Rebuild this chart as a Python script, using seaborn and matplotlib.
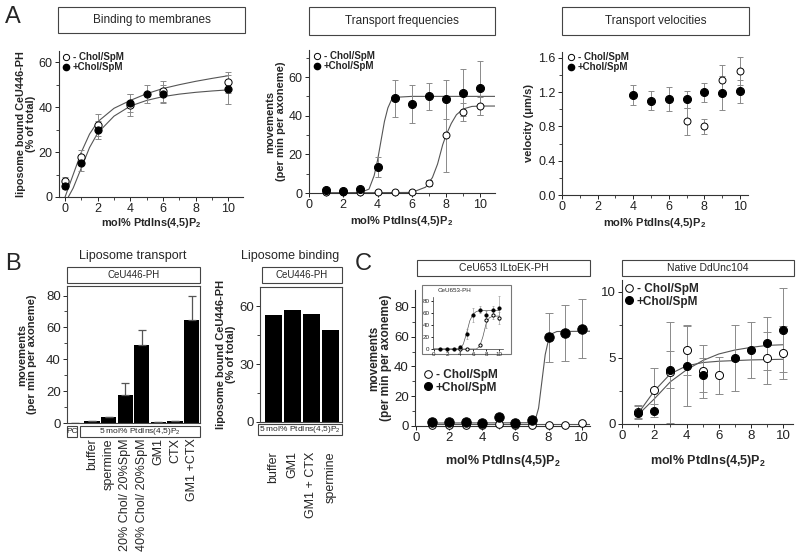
import numpy as np
import pandas as pd
import seaborn as sns
import matplotlib.pyplot as plt
from matplotlib.patches import Rectangle
from matplotlib.lines import Line2D

sns.set_style('ticks')
plt.rcParams['font.family'] = ['Liberation Sans', 'DejaVu Sans']
plt.rcParams['mathtext.default'] = 'regular'

W, H = 800, 554
XLAB = 'mol% PtdIns(4,5)P$_2$'

# ---------------- data ----------------
# A1 binding to membranes
a1_x_open = [0, 1, 2, 4, 6, 10]
a1_y_open = [7, 18, 32, 41, 47, 51]
a1_e_open = [2, 3, 5, 5, 4.5, 4.5]
a1_x_fill = [0, 1, 2, 4, 5, 6, 10]
a1_y_fill = [5, 15, 30, 42, 46, 46, 48]
a1_e_fill = [1.5, 3.5, 4, 4, 4, 4, 6.5]
a1_fit1_x = [0, 0.5, 1, 1.5, 2, 3, 4, 5, 6, 7, 8, 9, 10]
a1_fit1_y = [0, 10, 20, 28, 33.5, 39.5, 43, 46, 48.3, 50, 51.5, 52.8, 54]
a1_fit2_x = [0.2, 0.5, 1, 1.5, 2, 3, 4, 5, 6, 7, 8, 9, 10]
a1_fit2_y = [0, 4, 13, 22, 28.5, 36, 40.5, 43, 44.7, 45.8, 46.6, 47.2, 47.7]

# A2 transport frequencies
a2_x = [1, 2, 3, 4, 5, 6, 7, 8, 9, 10]
a2_y_fill = [1.5, 1, 2, 13.5, 49, 46, 50, 48.5, 52, 54.5]
a2_e_fill = [1, 0.8, 1, 5, 9.5, 10, 7, 10, 12, 14]
a2_y_open = [0.5, 0.5, 0.5, 0.5, 0.5, 0.5, 5, 30, 42, 45]
a2_e_open = [0, 0, 0, 0, 0, 0, 1.5, 19, 4.5, 4.5]
a2_fit_fill_x = [1, 3, 3.5, 3.8, 4, 4.2, 4.4, 4.6, 4.8, 5, 6, 10.9]
a2_fit_fill_y = [0, 0.3, 2, 9, 17, 27, 37, 44, 48, 49.5, 50, 50]
a2_fit_open_x = [1, 6, 6.8, 7.2, 7.5, 7.8, 8, 8.3, 8.6, 9, 9.5, 10, 10.9]
a2_fit_open_y = [0, 0.3, 3, 8, 15, 25, 30, 36, 40.5, 43.5, 44.8, 45, 45]

# A3 transport velocities
a3_x_fill = [4, 5, 6, 7, 8, 9, 10]
a3_y_fill = [1.17, 1.10, 1.12, 1.12, 1.20, 1.19, 1.21]
a3_e_fill = [0.12, 0.11, 0.14, 0.10, 0.11, 0.20, 0.13]
a3_x_open = [7, 8, 9, 10]
a3_y_open = [0.86, 0.80, 1.34, 1.45]
a3_e_open = [0.16, 0.09, 0.18, 0.16]

# B1 liposome transport
b1_cats = ['PC', 'buffer', 'spermine', '20% Chol/ 20%SpM', '40% Chol/ 20%SpM',
           'GM1', 'CTX', 'GM1 +CTX']
b1_vals = [0.3, 1, 3.5, 17.5, 49, 0.5, 1, 64.5]
b1_err = [0, 0, 0, 7.5, 9.5, 0, 0, 15]

# B2 liposome binding
b2_cats = ['buffer', 'GM1', 'GM1 + CTX', 'spermine']
b2_vals = [55.5, 58, 56, 47.7]

# C1 CeU653 ILtoEK-PH
c1_x = [1, 2, 3, 4, 5, 6, 7, 8, 9, 10]
c1_y_fill = [2.7, 2.5, 3, 2.2, 6, 2.2, 3.8, 59.5, 62.5, 65.5]
c1_e_fill = [0, 0, 0, 0, 0, 0, 0, 16.5, 18.7, 20]
c1_y_open = [1, 1, 1, 1, 1.5, 1, 0.5, 0.5, 0.5, 2.2]
c1_fit_x = [1, 7, 7.2, 7.4, 7.6, 7.8, 8, 8.2, 8.5, 10.5]
c1_fit_y = [2, 2.2, 4, 12, 30, 48, 58, 62, 63.5, 63.7]
c1_flat_x = [0.9, 10.5]
c1_flat_y = [1.2, 1.2]

# C1 inset CeU653-PH
ci_x = [1, 2, 3, 4, 5, 6, 7, 8, 9, 10]
ci_y_fill = [0, 0, 0, 3, 25, 57, 65.5, 57.5, 64.5, 69]
ci_e_fill = [0, 0, 0, 1, 8, 12, 6, 8, 8, 20]
ci_x_open = [4, 5, 7, 8, 9, 10]
ci_y_open = [0, 0, 6, 49, 57.5, 52.5]
ci_e_open = [0, 0, 0, 14, 8, 10]
ci_fit_fill_x = [0, 3.5, 4, 4.5, 5, 5.5, 6, 6.5, 7, 10]
ci_fit_fill_y = [0, 0, 1, 8, 26, 47, 58, 62.5, 64, 64.5]
ci_fit_open_x = [0, 6.5, 7, 7.5, 8, 8.5, 9, 10]
ci_fit_open_y = [0, 0, 4, 20, 42, 52, 54.5, 55]

# C2 native DdUnc104
c2_x_open = [1, 2, 3, 4, 5, 6, 9, 10]
c2_y_open = [0.93, 2.6, 3.9, 5.6, 4.0, 3.7, 5.0, 5.4]
c2_e_open = [0.5, 1.65, 3.8, 1.9, 2.0, 1.4, 2.0, 2.0]
c2_x_fill = [1, 2, 3, 4, 5, 7, 8, 9, 10]
c2_y_fill = [0.86, 1.0, 4.1, 4.4, 3.7, 5.0, 5.6, 6.1, 7.1]
c2_e_fill = [0.5, 0.5, 1.4, 3.0, 1.3, 2.5, 2.1, 2.0, 3.2]
c2_fit1_x = [1, 2, 3, 4, 5, 6, 7, 8, 9, 10]
c2_fit1_y = [0.7, 1.9, 3.2, 4.1, 4.8, 5.3, 5.6, 5.8, 5.95, 6.0]
c2_fit2_x = [1, 2, 3, 4, 5, 6, 7, 8, 10]
c2_fit2_y = [0.8, 2.5, 3.8, 4.4, 4.65, 4.75, 4.8, 4.85, 4.9]

# ---------------- helpers ----------------
fig = plt.figure(figsize=(8, 5.54), dpi=100)


def add_ax(l, t, r, b, **kw):
    return fig.add_axes([l / W, 1 - b / H, (r - l) / W, (b - t) / H], **kw)


def box(l, t, r, b, text, fs, fc='none', ec='#444', z=1):
    fig.add_artist(Rectangle((l / W, 1 - b / H), (r - l) / W, (b - t) / H,
                             transform=fig.transFigure, fc=fc, ec=ec, lw=0.8, zorder=z))
    if text:
        fig.text((l + r) / 2 / W, 1 - (t + b) / 2 / H, text, ha='center', va='center',
                 fontsize=fs, zorder=z + 1)


def style(ax, labelsize=8.5):
    sns.despine(ax=ax)
    for s in ['left', 'bottom']:
        ax.spines[s].set_linewidth(0.8)
        ax.spines[s].set_color('#333')
    ax.tick_params(labelsize=labelsize, length=3, width=0.7, pad=1.5, colors='#222')
    ax.tick_params(which='minor', length=2, width=0.6)


def points(ax, x, y, e, filled, ms=5.5, ew=0.7, cap=2):
    ax.errorbar(x, y, yerr=e, fmt='none', ecolor='#8a8a8a', elinewidth=ew,
                capsize=cap, capthick=ew, zorder=2, clip_on=False)
    sns.scatterplot(x=x, y=y, ax=ax, marker='o', s=ms ** 2,
                    color='black' if filled else 'white', edgecolor='black',
                    linewidth=0.7, zorder=3, clip_on=False)


def curve(ax, x, y, lw=0.8):
    sns.lineplot(x=x, y=y, ax=ax, color='#555', lw=lw, sort=False, estimator=None, zorder=1)


def legend(ax, px, py, fs=7, ms=4.5):
    h = [Line2D([], [], ls='none', marker='o', mfc='white', mec='black', ms=ms, mew=0.7),
         Line2D([], [], ls='none', marker='o', mfc='black', mec='black', ms=ms)]
    ax.legend(h, ['- Chol/SpM', '+Chol/SpM'], loc='upper left',
              bbox_to_anchor=(px / W, 1 - py / H), bbox_transform=fig.transFigure,
              frameon=False, borderpad=0, borderaxespad=0, handlelength=0.7,
              handletextpad=0.3, labelspacing=0.05, prop={'weight': 'bold', 'size': fs})


def labels(ax, ylab, yx, xlab_y=None, fs=8):
    if ylab:
        ax.set_ylabel(ylab, fontsize=fs, fontweight='bold', linespacing=1.0)
        ax.yaxis.set_label_coords(yx, 0.5)
    if xlab_y is not None:
        ax.set_xlabel(XLAB, fontsize=fs, fontweight='bold')
        ax.xaxis.set_label_coords(0.5, xlab_y)
    else:
        ax.set_xlabel('')


# ---------------- panel letters & headings ----------------
fig.text(5 / W, 1 - 17 / H, 'A', fontsize=17, va='center')
fig.text(5 / W, 1 - 264 / H, 'B', fontsize=17, va='center')
fig.text(355 / W, 1 - 264 / H, 'C', fontsize=17, va='center')
fig.text(133 / W, 1 - 256 / H, 'Liposome transport', fontsize=9, ha='center', va='center')
fig.text(290 / W, 1 - 256 / H, 'Liposome binding', fontsize=9, ha='center', va='center')

# ---------------- A1 ----------------
box(58, 7, 245, 33, 'Binding to membranes', 8.5)
ax = add_ax(59, 51, 243, 197)
curve(ax, a1_fit1_x, a1_fit1_y)
curve(ax, a1_fit2_x, a1_fit2_y)
points(ax, a1_x_open, a1_y_open, a1_e_open, False, ms=5.2)
points(ax, a1_x_fill, a1_y_fill, a1_e_fill, True, ms=5.2)
ax.set_xlim(-0.37, 10.9)
ax.set_ylim(0, 65)
ax.set_xticks([0, 2, 4, 6, 8, 10])
ax.set_xticks([1, 3, 5, 7, 9], minor=True)
ax.set_yticks([0, 20, 40, 60])
ax.set_yticks([10, 30, 50], minor=True)
style(ax, labelsize=9)
labels(ax, 'liposome bound CeU446-PH\n(% of total)', -0.125, -0.13, fs=7.8)
legend(ax, 63, 52)

# ---------------- A2 ----------------
box(309, 7, 495, 35, 'Transport frequencies', 8.5)
ax = add_ax(309, 50, 495, 193)
curve(ax, a2_fit_fill_x, a2_fit_fill_y)
curve(ax, a2_fit_open_x, a2_fit_open_y)
points(ax, a2_x, a2_y_open, a2_e_open, False, ms=5)
points(ax, a2_x, a2_y_fill, a2_e_fill, True, ms=5.8)
ax.set_xlim(0, 10.85)
ax.set_ylim(0, 74)
ax.set_xticks([0, 2, 4, 6, 8, 10])
ax.set_xticks([1, 3, 5, 7, 9], minor=True)
ax.set_yticks([0, 20, 40, 60])
ax.set_yticks([10, 30, 50, 70], minor=True)
style(ax, labelsize=9)
labels(ax, 'movements\n(per min per axoneme)', -0.125, -0.15)
legend(ax, 314, 51)

# ---------------- A3 ----------------
box(562, 7, 749, 35, 'Transport velocities', 8.5)
ax = add_ax(562, 52, 748, 195)
points(ax, a3_x_fill, a3_y_fill, a3_e_fill, True, ms=5.8)
points(ax, a3_x_open, a3_y_open, a3_e_open, False, ms=5)
ax.set_xlim(0, 10.45)
ax.set_ylim(0, 1.67)
ax.set_xticks([0, 2, 4, 6, 8, 10])
ax.set_xticks([1, 3, 5, 7, 9], minor=True)
ax.set_yticks([0, 0.4, 0.8, 1.2, 1.6])
ax.set_yticklabels(['0.0', '0.4', '0.8', '1.2', '1.6'])
ax.set_yticks([0.2, 0.6, 1.0, 1.4], minor=True)
style(ax, labelsize=9)
labels(ax, 'velocity (μm/s)', -0.15, -0.15)
legend(ax, 568, 52)

# ---------------- B1 ----------------
box(67, 267, 200, 283, 'CeU446-PH', 7)
ax = add_ax(67, 286, 200, 423)
b1_df = pd.DataFrame({'cond': b1_cats, 'val': b1_vals})
sns.barplot(data=b1_df, x='cond', y='val', ax=ax, color='black', width=0.92,
            saturation=1, edgecolor='none')
ax.errorbar(range(len(b1_vals)), b1_vals, yerr=[[0] * len(b1_err), b1_err], fmt='none',
            ecolor='#555', elinewidth=0.9, capsize=3, capthick=0.9)
ax.set_xlim(-0.5, 7.5)
ax.set_ylim(0, 86)
ax.set_yticks([0, 20, 40, 60, 80])
ax.set_yticks([10, 30, 50, 70], minor=True)
ax.set_xticks(range(len(b1_cats)))
ax.set_xticklabels([''] + b1_cats[1:], rotation=90, fontsize=9)
for s in ax.spines.values():
    s.set_linewidth(0.8)
    s.set_color('#444')
ax.tick_params(axis='y', labelsize=9.5, length=3, width=0.7, pad=1.5)
ax.tick_params(axis='y', which='minor', length=2)
ax.tick_params(axis='x', length=0, pad=11)
labels(ax, 'movements\n(per min per axoneme)', -0.225)
box(67, 426, 77, 437, 'PC', 6)
box(80, 426, 200, 437, '5 mol% PtdIns(4,5)P$_2$', 6)

# ---------------- B2 ----------------
box(262, 267, 342, 283, 'CeU446-PH', 7)
ax = add_ax(260, 287, 342, 422)
b2_df = pd.DataFrame({'cond': b2_cats, 'val': b2_vals})
sns.barplot(data=b2_df, x='cond', y='val', ax=ax, color='black', width=0.9,
            saturation=1, edgecolor='none')
ax.set_xlim(-0.7, 3.6)
ax.set_ylim(0, 70)
ax.set_yticks([0, 30, 60])
ax.set_yticks([15, 45], minor=True)
ax.set_xticks(range(len(b2_cats)))
ax.set_xticklabels(b2_cats, rotation=90, fontsize=9)
for s in ax.spines.values():
    s.set_linewidth(0.8)
    s.set_color('#444')
ax.tick_params(axis='y', labelsize=9.5, length=3, width=0.7, pad=1.5)
ax.tick_params(axis='y', which='minor', length=2)
ax.tick_params(axis='x', length=0, pad=21)
labels(ax, 'liposome bound CeU446-PH\n(% of total)', -0.29)
box(258, 424, 342, 435, '5 mol% PtdIns(4,5)P$_2$', 6)

# ---------------- C1 ----------------
box(417, 260, 590, 276, 'CeU653 ILtoEK-PH', 7.5)
ax = add_ax(415, 290, 590, 426)
curve(ax, c1_fit_x, c1_fit_y)
curve(ax, c1_flat_x, c1_flat_y)
points(ax, c1_x, c1_y_open, [0] * 10, False, ms=5.5)
points(ax, c1_x, c1_y_fill, c1_e_fill, True, ms=6.8, cap=3)
ax.set_xlim(-0.05, 10.5)
ax.set_ylim(0, 91.4)
ax.set_xticks([0, 2, 4, 6, 8, 10])
ax.set_xticks([1, 3, 5, 7, 9], minor=True)
ax.set_yticks([0, 20, 40, 60, 80])
ax.set_yticks([10, 30, 50, 70], minor=True)
style(ax, labelsize=9.5)
labels(ax, 'movements\n(per min per axoneme)', -0.13, -0.2, fs=8.5)
ax.xaxis.label.set_fontsize(9)
legend(ax, 424, 369, fs=8.5, ms=5.5)

# inset
box(422, 285, 511, 354, None, 0, fc='white', ec='#777', z=2)
ins = add_ax(433, 297, 503, 349, zorder=3)
ins.patch.set_alpha(0)
curve(ins, ci_fit_fill_x, ci_fit_fill_y, lw=0.5)
curve(ins, ci_fit_open_x, ci_fit_open_y, lw=0.5)
points(ins, ci_x_open, ci_y_open, ci_e_open, False, ms=2.3, ew=0.4, cap=1)
points(ins, ci_x, ci_y_fill, ci_e_fill, True, ms=2.3, ew=0.4, cap=1)
ins.set_xlim(-0.15, 10.6)
ins.set_ylim(0, 86.7)
ins.set_xticks([0, 2, 4, 6, 8, 10])
ins.set_yticks([0, 20, 40, 60, 80])
style(ins, labelsize=4.5)
ins.tick_params(length=1.5, pad=1)
ins.set_xlabel('')
ins.set_ylabel('')
for s in ['left', 'bottom']:
    ins.spines[s].set_linewidth(0.5)
fig.text(438 / W, 1 - 291 / H, 'CeU653-PH', fontsize=4.5, va='center', zorder=4)

# ---------------- C2 ----------------
box(622, 260, 794, 276, 'Native DdUnc104', 7.5)
ax = add_ax(622, 280, 793, 424)
curve(ax, c2_fit1_x, c2_fit1_y)
curve(ax, c2_fit2_x, c2_fit2_y)
points(ax, c2_x_open, c2_y_open, c2_e_open, False, ms=5.8, cap=3)
points(ax, c2_x_fill, c2_y_fill, c2_e_fill, True, ms=5.8, cap=3)
ax.set_xlim(0, 10.6)
ax.set_ylim(0, 10.9)
ax.set_xticks([0, 2, 4, 6, 8, 10])
ax.set_xticks([1, 3, 5, 7, 9], minor=True)
ax.set_yticks([0, 5, 10])
ax.set_yticks([2.5, 7.5], minor=True)
style(ax, labelsize=9.5)
labels(ax, None, 0, -0.2, fs=8)
ax.set_ylabel('')
ax.xaxis.label.set_fontsize(9)
legend(ax, 625, 283, fs=8.5, ms=5.5)

fig.savefig('out.png', dpi=100)
